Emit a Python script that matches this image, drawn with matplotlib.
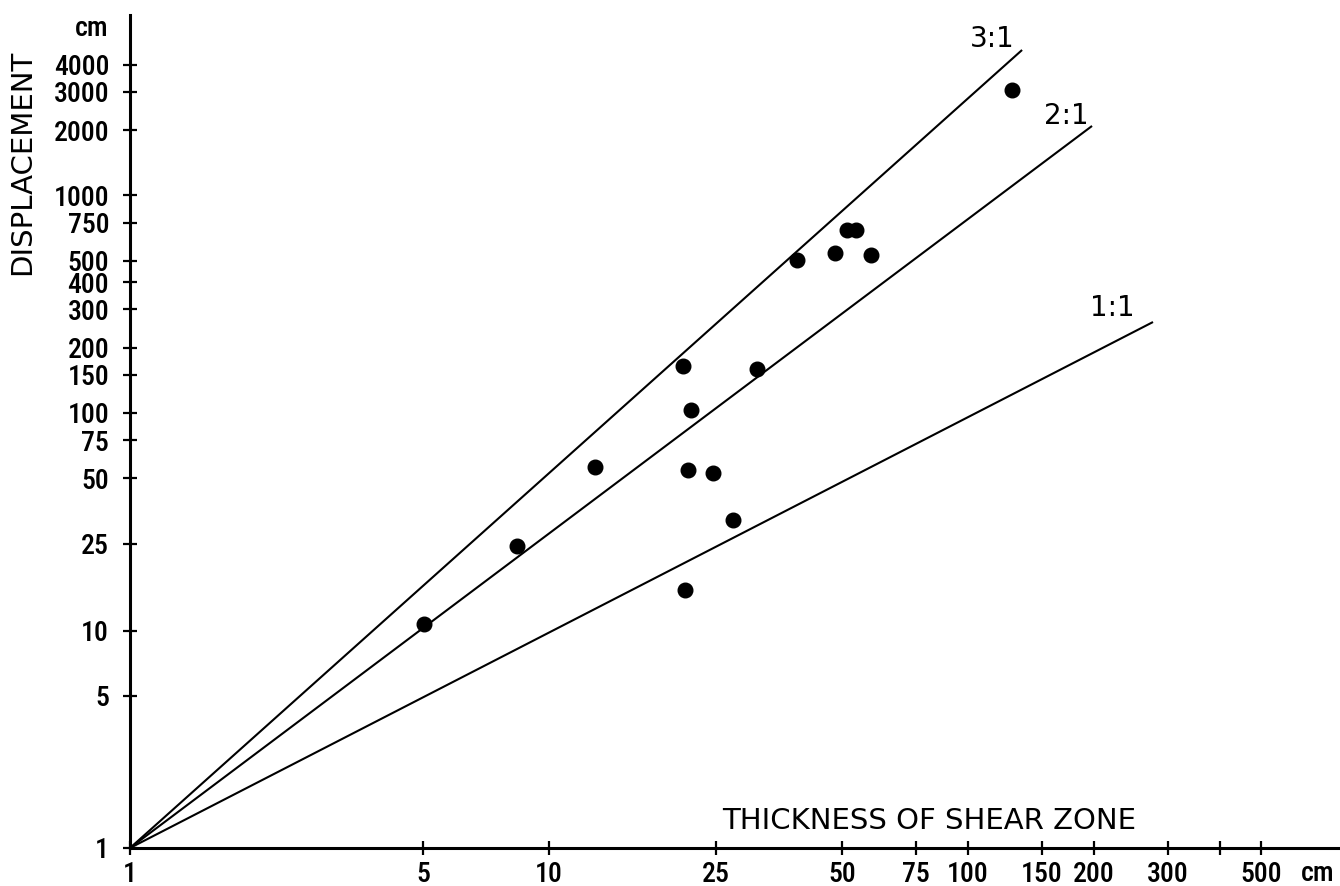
import matplotlib
matplotlib.use("Agg")
import matplotlib.pyplot as plt
from matplotlib.ticker import FixedLocator, FixedFormatter, NullLocator
from matplotlib import font_manager

# Data: thickness of shear zone (cm) vs displacement (cm)
thickness = [5.03, 8.39, 12.9, 20.9, 21.1, 21.5, 21.8, 24.6, 27.5, 31.4,
             39.1, 48.2, 51.4, 54.0, 58.7, 127.3]
displacement = [10.7, 24.5, 56.5, 164, 15.4, 54.7, 103, 53.0, 32.2, 159,
                505, 544, 694, 694, 533, 3055]

# Reference lines from origin (1, 1) to their end points
line_labels = ["3:1", "2:1", "1:1"]
line_end_x = [134.6, 197.7, 276.4]
line_end_y = [4667, 2088, 262]

xticks = [1, 5, 10, 25, 50, 75, 100, 150, 200, 300, 400, 500]
xticklabels = ["1", "5", "10", "25", "50", "75", "100", "150", "200", "300", "", "500"]
yticks = [1, 5, 10, 25, 50, 75, 100, 150, 200, 300, 400, 500, 750, 1000, 2000, 3000, 4000]
yticklabels = [str(v) for v in yticks]

plt.rcParams['font.family'] = ['DejaVu Sans']
names = {f.name for f in font_manager.fontManager.ttflist}
narrow = 'DejaVu Sans'
for cand in ['Roboto Condensed', 'DejaVu Sans Condensed', 'Liberation Sans Narrow']:
    if cand in names:
        narrow = cand
        break
NARROW = [narrow, 'DejaVu Sans']
WIDE = ['DejaVu Sans']

FS = 20

W, H = 1340, 886
fig = plt.figure(figsize=(W / 100, H / 100), dpi=100)
ax = fig.add_axes([130 / W, (H - 848) / H, (W - 130) / W, (848 - 15) / H])
ax.set_xscale('log')
ax.set_yscale('log')
ax.set_xlim(1, 10 ** ((W - 130) / 419))
ax.set_ylim(1, 10 ** ((848 - 15) / 217.5))

for sp in ['top', 'right']:
    ax.spines[sp].set_visible(False)
for sp in ['left', 'bottom']:
    ax.spines[sp].set_linewidth(2.2)
    ax.spines[sp].set_color('black')

# Lines
label_offsets = [(-30, 11), (-26, 10), (-41, 14)]
for lab, ex, ey, off in zip(line_labels, line_end_x, line_end_y, label_offsets):
    ax.plot([1, ex], [1, ey], color='black', lw=1.5, solid_capstyle='butt', clip_on=False)
    ax.annotate(lab, xy=(ex, ey), xytext=off, textcoords='offset pixels',
                ha='center', va='center', fontsize=FS, family=WIDE)

ax.plot(thickness, displacement, 'o', color='black', ms=10.5, clip_on=False)

ax.xaxis.set_major_locator(FixedLocator(xticks))
ax.xaxis.set_major_formatter(FixedFormatter(xticklabels))
ax.yaxis.set_major_locator(FixedLocator(yticks))
ax.yaxis.set_major_formatter(FixedFormatter(yticklabels))
ax.xaxis.set_minor_locator(NullLocator())
ax.yaxis.set_minor_locator(NullLocator())
ax.tick_params(axis='both', which='major', direction='inout', length=10, width=1.6,
               labelsize=FS, colors='black')
ax.tick_params(axis='x', pad=4)
ax.tick_params(axis='y', pad=10)
for lbl in ax.get_xticklabels() + ax.get_yticklabels():
    lbl.set_family(NARROW)
    lbl.set_fontweight('medium')

fig.text(108 / W, 1 - 28 / H, "cm", ha='right', va='center', fontsize=FS,
         family=NARROW, fontweight='medium')
fig.text(22 / W, 1 - 162 / H, "DISPLACEMENT", ha='center', va='center',
         rotation=90, fontsize=21, family=WIDE)
fig.text(722 / W, 1 - 821 / H, "THICKNESS OF SHEAR ZONE", ha='left', va='center',
         fontsize=21, family=WIDE)
fig.text(1318 / W, 1 - 881 / H, "cm", ha='center', va='baseline', fontsize=FS,
         family=NARROW, fontweight='medium')

fig.savefig("out.png", dpi=100)
